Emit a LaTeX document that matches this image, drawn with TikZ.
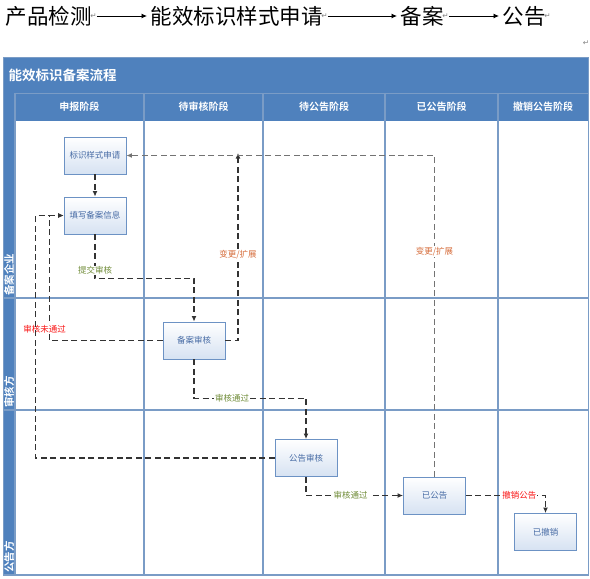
\documentclass[tikz,border=0pt]{standalone}
\usepackage{fontspec}
\usepackage{tikz}
\usetikzlibrary{arrows.meta,calc,positioning}
\newfontfamily\cjk{Noto Sans CJK SC}[BoldFont={Noto Sans CJK SC Bold}]
\newfontfamily\marksym{DejaVu Sans}
\definecolor{lanebl}{RGB}{79,129,189}
\definecolor{gridbl}{RGB}{122,156,198}
\definecolor{boxbl}{RGB}{108,146,196}
\definecolor{boxfill}{RGB}{214,226,242}
\definecolor{txtbl}{RGB}{72,108,165}
\definecolor{okgreen}{RGB}{112,140,56}
\definecolor{chgorange}{RGB}{214,108,58}
\definecolor{nored}{RGB}{250,20,20}

\begin{document}
\begin{tikzpicture}[x=1pt,y=-1pt,>={Latex[length=5.5pt,width=5pt]},font=\cjk,
    box/.style={draw=boxbl,line width=0.9pt,top color=white,bottom color=boxfill,
      minimum width=62pt,minimum height=37pt,inner sep=0pt,text=txtbl,
      font=\cjk\fontsize{8.5}{10}\selectfont},
    flow/.style={->,dash pattern=on 6pt off 3.5pt,line width=1.3pt,draw=black!80},
    lab/.style={fill=white,inner sep=1pt,font=\cjk\fontsize{8.5}{10}\selectfont},
    head/.style={text=white,font=\cjk\bfseries\fontsize{10}{12}\selectfont},
    stage/.style={anchor=west,font=\cjk\fontsize{21.5}{24}\selectfont},
    pmark/.style={text=black!50,inner sep=0pt,font=\marksym\fontsize{7.5}{8}\selectfont}]
  \useasboundingbox (0,0) rectangle (590,579);

  % top line: the four steps
  \node[stage] (prod) at (2,16) {产品检测};
  \node[stage] (label) at (147,16) {能效标识样式申请};
  \node[stage] (filing) at (397,16) {备案};
  \node[stage] (notice) at (499,16) {公告};
  \node[pmark,anchor=west] (m1) at ([xshift=-5pt]prod.east) {↵};
  \node[pmark,anchor=west] (m2) at ([xshift=-5pt]label.east) {↵};
  \node[pmark,anchor=west] (m3) at ([xshift=-5pt]filing.east) {↵};
  \node[pmark,anchor=west] (m4) at ([xshift=-5pt]notice.east) {↵};
  \node[pmark] (m5) at (586,43) {↵};
  \draw[->,line width=0.8pt] (m1.east)--(label.west);
  \draw[->,line width=0.8pt] (m2.east)--(filing.west);
  \draw[->,line width=0.8pt] (m3.east)--(notice.west);

  % swimlane frame
  \fill[lanebl] (3,57) rectangle (588,121);
  \fill[lanebl] (3,93) rectangle (15,575);
  \draw[gridbl,line width=1pt] (15,93)--(588,93);
  \foreach \x in {15,144,263,385,498}
    \draw[gridbl,line width=1.2pt] (\x,93)--(\x,575);
  \foreach \y in {298,410,575}
    \draw[gridbl,line width=1.2pt] (3,\y)--(588,\y);
  \draw[gridbl,line width=1pt] (3,57) rectangle (588,575);
  \node[anchor=west,text=white,font=\cjk\bfseries\fontsize{13.5}{15}\selectfont] (title) at (5,75) {能效标识备案流程};
  \node[head] (c1) at (79.5,107) {申报阶段};
  \node[head] (c2) at (203.5,107) {待审核阶段};
  \node[head] (c3) at (324,107) {待公告阶段};
  \node[head] (c4) at (441.5,107) {已公告阶段};
  \node[head] (c5) at (543,107) {撤销公告阶段};
  \node[head,rotate=90,anchor=west,inner sep=1pt,font=\cjk\bfseries\fontsize{10.5}{12}\selectfont] (r1) at (9,297) {备案企业};
  \node[head,rotate=90,anchor=west,inner sep=1pt,font=\cjk\bfseries\fontsize{10.5}{12}\selectfont] (r2) at (9,409) {审核方};
  \node[head,rotate=90,anchor=west,inner sep=1pt,font=\cjk\bfseries\fontsize{10.5}{12}\selectfont] (r3) at (9,574) {公告方};

  % steps
  \node[box] (apply) at (95,155.5) {标识样式申请};
  \node[box] (fillin) at (95,215.5) {填写备案信息};
  \node[box] (review) at (194,340.5) {备案审核};
  \node[box] (pubrev) at (306,458) {公告审核};
  \node[box] (published) at (434.5,495.5) {已公告};
  \node[box] (revoked) at (545.5,532) {已撤销};
  \coordinate (back1) at ([xshift=-14pt]fillin.west);
  \coordinate (back2) at ([xshift=-28pt]fillin.west);
  \coordinate (chg) at (238,153);

  % flows
  \draw[flow] (apply)--(fillin);
  \draw[flow] (fillin.south)--node[lab,pos=.82,text=okgreen]{提交审核} ++(0,44) -| (review.north);
  \draw[flow] (review.east) -| node[lab,pos=.73,text=chgorange]{变更/扩展} (chg);
  \draw[flow,draw=black!55] (published.north) |- node[lab,pos=.35,text=chgorange]{变更/扩展} (apply.east);
  \draw[flow] (review.west) -| node[lab,pos=.545,xshift=-5pt,text=nored]{审核未通过} (back1)--(fillin.west);
  \draw[flow] (pubrev.west) -| (back2)--(fillin.west);
  \draw[flow] (review.south)-- ++(0,39) -| node[lab,pos=.17,text=okgreen]{审核通过} (pubrev.north);
  \draw[flow] (pubrev.south) |- node[lab,pos=.73,text=okgreen]{审核通过} (published.west);
  \draw[flow] (published.east) -| node[lab,pos=.335,text=nored]{撤销公告} (revoked.north);
\end{tikzpicture}
\end{document}
